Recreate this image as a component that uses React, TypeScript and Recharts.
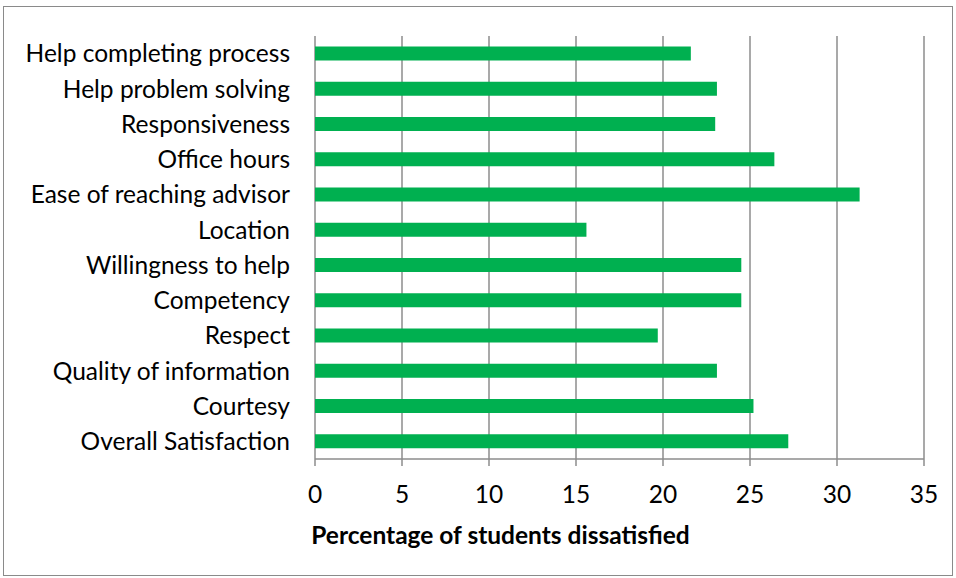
import { BarChart, XAxis, YAxis, Bar, CartesianGrid, Label } from "recharts";

const categories = [
  "Help completing process",
  "Help problem solving",
  "Responsiveness",
  "Office hours",
  "Ease of reaching advisor",
  "Location",
  "Willingness to help",
  "Competency",
  "Respect",
  "Quality of information",
  "Courtesy",
  "Overall Satisfaction",
];

const dissatisfied = [21.6, 23.1, 23.0, 26.4, 31.3, 15.6, 24.5, 24.5, 19.7, 23.1, 25.2, 27.2];

const xTicks = [0, 5, 10, 15, 20, 25, 30, 35];

// category boundaries, where the y axis draws its tick marks
const boundaryTicks = [0, 1, 2, 3, 4, 5, 6, 7, 8, 9, 10, 11, 12];

const FONT = "Lato, 'Open Sans', sans-serif";
const SIZE = 24.5;

export default function App() {
  const data = categories.map((name, i) => ({ name, value: dissatisfied[i] }));

  return (
    <div
      style={{
        position: "absolute",
        left: 0,
        top: 0,
        width: 956,
        height: 578,
        background: "#fff",
        fontFamily: FONT,
      }}
    >
      <div
        style={{
          position: "absolute",
          left: 3,
          top: 6,
          width: 950,
          height: 570,
          border: "1px solid #8a8a8a",
          boxSizing: "border-box",
        }}
      />
      <BarChart
        width={956}
        height={578}
        data={data}
        layout="vertical"
        barCategoryGap="30%"
        margin={{ top: 36, right: 32, left: 0, bottom: 19 }}
        style={{ position: "absolute", left: 0, top: 0 }}
      >
        <CartesianGrid horizontal={false} stroke="#8c8c8c" strokeWidth={1.5} />
        <XAxis
          type="number"
          domain={[0, 35]}
          ticks={xTicks}
          interval={0}
          stroke="#8c8c8c"
          strokeWidth={1.5}
          tickSize={7}
          tickMargin={20}
          height={100}
          tick={{ fill: "#000", fontSize: SIZE, fontFamily: FONT }}
        >
          <Label
            value="Percentage of students dissatisfied"
            position="insideBottom"
            offset={15}
            dx={-119}
            style={{ fill: "#000", fontSize: SIZE, fontWeight: 700, fontFamily: FONT }}
          />
        </XAxis>
        <YAxis
          yAxisId="cat"
          type="category"
          dataKey="name"
          width={315}
          interval={0}
          tickLine={false}
          axisLine={false}
          tickSize={0}
          tickMargin={25}
          tick={{ fill: "#000", fontSize: SIZE, fontFamily: FONT }}
        />
        <YAxis
          yAxisId="edge"
          type="number"
          domain={[0, 12]}
          ticks={boundaryTicks}
          interval={0}
          width={0}
          tick={false}
          tickSize={7}
          stroke="#8c8c8c"
          strokeWidth={1.5}
        />
        <Bar yAxisId="cat" dataKey="value" fill="#00b050" isAnimationActive={false} />
      </BarChart>
    </div>
  );
}
